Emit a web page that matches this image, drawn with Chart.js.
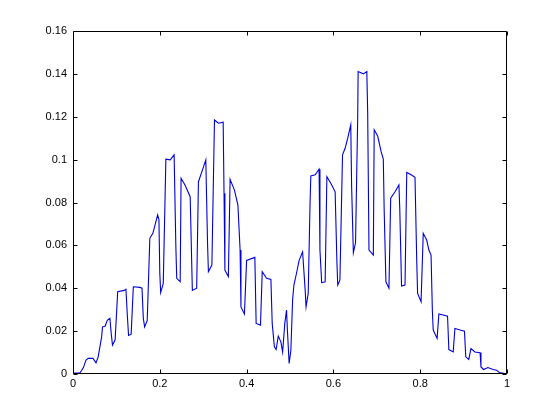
<!DOCTYPE html>
<html>
<head>
<meta charset="utf-8">
<script src="https://cdn.jsdelivr.net/npm/chart.js@4"></script>
<style>
  body { margin: 0; background: #fff; }
  #wrap { width: 560px; height: 420px; }
</style>
</head>
<body>
<div id="wrap"><canvas id="plot" width="560" height="420"></canvas></div>
<script>
// values
const xVals = [0, 0.001, 0.016, 0.024, 0.030, 0.035, 0.046, 0.053, 0.058, 0.066, 0.068, 0.074, 0.079, 0.085, 0.088, 0.091, 0.097,
  0.103, 0.118, 0.122, 0.125, 0.128, 0.134, 0.139, 0.154, 0.159, 0.162, 0.165, 0.171, 0.174, 0.177, 0.184, 0.190, 0.195, 0.198,
  0.200, 0.202, 0.208, 0.214, 0.224, 0.233, 0.237, 0.239, 0.247, 0.249, 0.258, 0.270, 0.275, 0.285, 0.289, 0.297, 0.306, 0.310,
  0.312, 0.320, 0.326, 0.335, 0.346, 0.348, 0.350, 0.358, 0.362, 0.372, 0.380, 0.385, 0.387, 0.395, 0.400, 0.419, 0.422, 0.432,
  0.436, 0.446, 0.456, 0.459, 0.464, 0.468, 0.473, 0.479, 0.483, 0.488, 0.492, 0.494, 0.498, 0.502, 0.506, 0.509, 0.515, 0.521,
  0.529, 0.535, 0.537, 0.542, 0.546, 0.548, 0.558, 0.567, 0.569, 0.573, 0.581, 0.585, 0.594, 0.604, 0.608, 0.610, 0.615, 0.621,
  0.627, 0.633, 0.640, 0.642, 0.646, 0.651, 0.656, 0.657, 0.669, 0.677, 0.679, 0.682, 0.692, 0.694, 0.702, 0.710, 0.715, 0.717,
  0.721, 0.728, 0.732, 0.742, 0.751, 0.753, 0.757, 0.765, 0.769, 0.779, 0.788, 0.792, 0.794, 0.802, 0.807, 0.815, 0.820, 0.825,
  0.828, 0.830, 0.839, 0.843, 0.853, 0.863, 0.866, 0.876, 0.880, 0.892, 0.902, 0.905, 0.912, 0.917, 0.926, 0.938, 0.940, 0.946,
  0.956, 0.968, 0.976, 0.982, 0.995, 1.000];
const yVals = [0.0005, 0.0005, 0.0005, 0.003, 0.0065, 0.0073, 0.0073, 0.0052, 0.008, 0.0173, 0.022, 0.0223, 0.025, 0.026, 0.019, 0.0135, 0.0158,
  0.0384, 0.039, 0.0395, 0.028, 0.018, 0.0186, 0.0407, 0.0404, 0.040, 0.026, 0.022, 0.025, 0.0438, 0.0633, 0.0656, 0.0703, 0.0742, 0.072,
  0.047, 0.038, 0.0423, 0.1002, 0.0999, 0.1022, 0.0594, 0.0446, 0.043, 0.0913, 0.0882, 0.0827, 0.039, 0.040, 0.0897, 0.0944, 0.0999, 0.061,
  0.0477, 0.0508, 0.1185, 0.117, 0.1175, 0.0843, 0.0485, 0.0454, 0.0908, 0.0858, 0.0788, 0.0578, 0.0313, 0.028, 0.053, 0.0544, 0.0236, 0.0228,
  0.0477, 0.0446, 0.0441, 0.0236, 0.0127, 0.0114, 0.0177, 0.015, 0.0103, 0.0236, 0.0298, 0.0205, 0.0049, 0.011, 0.0345, 0.0415, 0.047, 0.053,
  0.057, 0.039, 0.0313, 0.0376, 0.078, 0.0924, 0.0929, 0.0955, 0.0578, 0.0426, 0.043, 0.092, 0.089, 0.085, 0.053, 0.0415, 0.0438, 0.1022,
  0.1053, 0.110, 0.1162, 0.0874, 0.0566, 0.0612, 0.1201, 0.1411, 0.140, 0.1411, 0.1217, 0.0578, 0.0555, 0.1139, 0.111, 0.1037, 0.1002, 0.0765,
  0.043, 0.040, 0.082, 0.085, 0.0882, 0.0765, 0.041, 0.0415, 0.094, 0.0929, 0.0918, 0.053, 0.0376, 0.0337, 0.0656, 0.0625, 0.0578, 0.0555,
  0.0298, 0.0205, 0.0166, 0.028, 0.0275, 0.027, 0.0114, 0.0103, 0.0212, 0.0205, 0.020, 0.008, 0.0068, 0.0119, 0.0103, 0.0099, 0.0033, 0.0021,
  0.003, 0.0021, 0.0018, 0.0007, 0.0002, 0.0002];

const xTicks = [0, 0.2, 0.4, 0.6, 0.8, 1];
const yTicks = [0, 0.02, 0.04, 0.06, 0.08, 0.1, 0.12, 0.14, 0.16];

let points = xVals.map((x, i) => ({ x: x, y: yVals[i] }));

const fmt = v => String(+Number(v).toFixed(4));

// matlab style box with inward ticks
const boxTicks = {
  id: 'boxTicks',
  afterDraw(chart) {
    const { ctx, chartArea: a, scales } = chart;
    const L = Math.round(a.left) + 0.5, R = Math.round(a.right) - 0.5;
    const T = Math.round(a.top) + 0.5, B = Math.round(a.bottom) - 0.5;
    ctx.save();
    ctx.strokeStyle = '#000';
    ctx.lineWidth = 1;
    ctx.beginPath();
    ctx.rect(L, T, R - L, B - T);
    xTicks.forEach(v => {
      let px = Math.round(scales.x.getPixelForValue(v)) + 0.5;
      ctx.moveTo(px, B); ctx.lineTo(px, B - 4);
      ctx.moveTo(px, T); ctx.lineTo(px, T + 4);
    });
    yTicks.forEach(v => {
      let py = Math.round(scales.y.getPixelForValue(v)) + 0.5;
      ctx.moveTo(L, py); ctx.lineTo(L + 4, py);
      ctx.moveTo(R, py); ctx.lineTo(R - 4, py);
    });
    ctx.stroke();
    ctx.restore();
  }
};

Chart.defaults.font.family = '"Liberation Sans", Arial, sans-serif';
Chart.defaults.font.size = 11;
Chart.defaults.color = '#000';

new Chart(document.getElementById('plot').getContext('2d'), {
  type: 'line',
  data: {
    datasets: [{
      data: points,
      borderColor: '#0000d8',
      borderWidth: 1.1,
      pointRadius: 0,
      tension: 0,
      fill: false
    }]
  },
  options: {
    responsive: false,
    animation: false,
    layout: { padding: { top: 31, right: 53, left: 0, bottom: 0 } },
    plugins: { legend: { display: false }, tooltip: { enabled: false } },
    scales: {
      x: {
        type: 'linear',
        min: 0, max: 1,
        grid: { display: false, drawTicks: false },
        border: { display: false },
        afterBuildTicks: s => { s.ticks = xTicks.map(v => ({ value: v })); },
        afterFit: s => { s.height = 46; },
        ticks: { padding: 3, maxRotation: 0, callback: fmt }
      },
      y: {
        type: 'linear',
        min: 0, max: 0.16,
        grid: { display: false, drawTicks: false },
        border: { display: false },
        afterBuildTicks: s => { s.ticks = yTicks.map(v => ({ value: v })); },
        afterFit: s => { s.width = 73; },
        ticks: { padding: 6, callback: fmt }
      }
    }
  },
  plugins: [boxTicks]
});
</script>
</body>
</html>
